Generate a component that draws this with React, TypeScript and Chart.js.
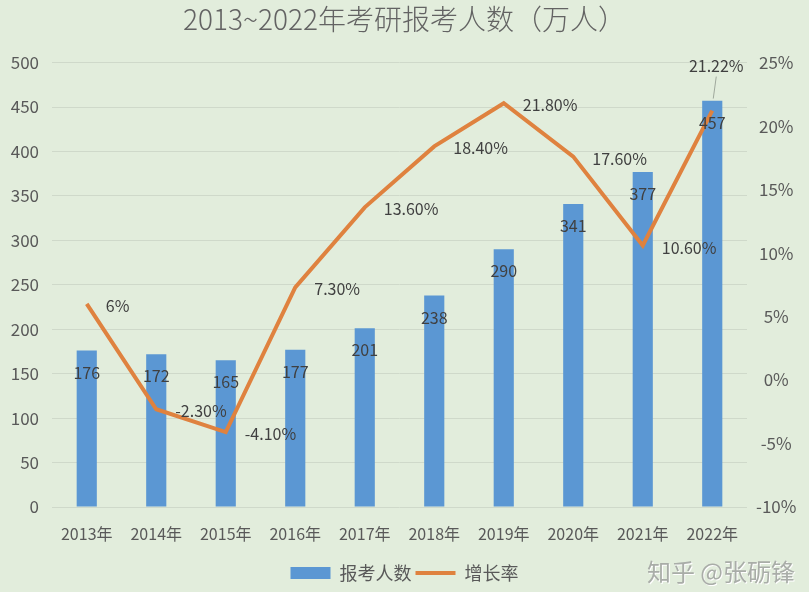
import React, { useEffect, useRef } from 'react';
import { Chart, registerables } from 'chart.js';

Chart.register(...registerables);

const titleText = '2013~2022年考研报考人数（万人）';
const years = ['2013年', '2014年', '2015年', '2016年', '2017年', '2018年', '2019年', '2020年', '2021年', '2022年'];
const applicants = [176, 172, 165, 177, 201, 238, 290, 341, 377, 457];
const growthRate = [6, -2.3, -4.1, 7.3, 13.6, 18.4, 21.8, 17.6, 10.6, 21.22];
const growthLabels = ['6%', '-2.30%', '-4.10%', '7.30%', '13.60%', '18.40%', '21.80%', '17.60%', '10.60%', '21.22%'];
const seriesNames = ['报考人数', '增长率'];
const leftAxis = { min: 0, max: 500, step: 50 };
const rightAxis = { min: -10, max: 25, step: 5 };
const watermark = '知乎 @张砺锋';

const FONT = '"Noto Sans CJK SC", "Noto Sans", sans-serif';
const BG = '#E2EDDC';
const BAR = '#5B97D3';
const LINE = '#DF823F';
const TEXT = '#595959';
const LABEL = '#404040';
const GRID = '#CFD9CA';

const labelsPlugin = {
  id: 'customLabels',
  afterDatasetsDraw(chart: any) {
    const ctx = chart.ctx;
    ctx.save();
    ctx.font = `16px ${FONT}`;
    ctx.fillStyle = LABEL;
    ctx.textBaseline = 'middle';
    // bar labels (inside end)
    const barMeta = chart.getDatasetMeta(0);
    barMeta.data.forEach((bar: any, i: number) => {
      ctx.textAlign = 'center';
      ctx.fillText(String(applicants[i]), bar.x, bar.y + 22);
    });
    // line labels (right of point)
    const lineMeta = chart.getDatasetMeta(1);
    lineMeta.data.forEach((pt: any, i: number) => {
      if (i === lineMeta.data.length - 1) {
        ctx.textAlign = 'center';
        ctx.fillText(growthLabels[i], pt.x + 4, pt.y - 45);
        ctx.strokeStyle = '#9FA89C';
        ctx.lineWidth = 1;
        ctx.beginPath();
        ctx.moveTo(pt.x + 4, pt.y - 34);
        ctx.lineTo(pt.x + 1, pt.y - 12);
        ctx.stroke();
      } else {
        ctx.textAlign = 'left';
        ctx.fillText(growthLabels[i], pt.x + 19, pt.y + 2);
      }
    });
    ctx.restore();
  },
  afterDraw(chart: any) {
    const ctx = chart.ctx;
    ctx.save();
    ctx.font = `24px ${FONT}`;
    ctx.textAlign = 'right';
    ctx.textBaseline = 'middle';
    ctx.fillStyle = '#FFFFFF';
    ctx.fillText(watermark, chart.width - 13, 573);
    ctx.fillStyle = '#A9ADA8';
    ctx.fillText(watermark, chart.width - 14, 572);
    ctx.restore();
  },
};

export default function App() {
  const ref = useRef<HTMLCanvasElement | null>(null);

  useEffect(() => {
    document.body.style.margin = '0';
    if (!ref.current) return;
    const chart = new Chart(ref.current, {
      type: 'bar',
      data: {
        labels: years,
        datasets: [
          {
            type: 'bar',
            label: seriesNames[0],
            data: applicants,
            backgroundColor: BAR,
            borderWidth: 0,
            yAxisID: 'y',
            barPercentage: 0.29,
            categoryPercentage: 1,
            order: 1,
          },
          {
            type: 'line',
            label: seriesNames[1],
            data: growthRate,
            borderColor: LINE,
            backgroundColor: LINE,
            borderWidth: 4,
            pointRadius: 0,
            tension: 0,
            yAxisID: 'y1',
            order: 0,
          } as any,
        ],
      },
      options: {
        animation: false,
        responsive: true,
        maintainAspectRatio: false,
        layout: { padding: { left: 0, right: 0, top: 3, bottom: 0 } },
        plugins: {
          title: {
            display: true,
            text: titleText,
            color: '#636363',
            font: { family: FONT, size: 28, weight: '300' as any },
            padding: { top: 0, bottom: 26 },
          },
          legend: {
            position: 'bottom',
            labels: {
              usePointStyle: true,
              pointStyleWidth: 40,
              boxHeight: 12,
              padding: 4,
              color: TEXT,
              font: { family: FONT, size: 18 },
              generateLabels: () => [
                {
                  text: seriesNames[0],
                  fillStyle: BAR,
                  strokeStyle: BAR,
                  lineWidth: 0,
                  pointStyle: 'rect',
                  datasetIndex: 0,
                  hidden: false,
                  fontColor: TEXT,
                } as any,
                {
                  text: seriesNames[1],
                  fillStyle: LINE,
                  strokeStyle: LINE,
                  lineWidth: 4,
                  pointStyle: 'line',
                  datasetIndex: 1,
                  hidden: false,
                  fontColor: TEXT,
                } as any,
              ],
            },
          },
          tooltip: { enabled: false },
        },
        scales: {
          x: {
            grid: { display: false },
            border: { display: false },
            ticks: { color: TEXT, font: { family: FONT, size: 16 }, padding: 9, maxRotation: 0 },
            afterFit: (axis: any) => {
              axis.height = 53;
            },
          },
          y: {
            position: 'left',
            min: leftAxis.min,
            max: leftAxis.max,
            ticks: { stepSize: leftAxis.step, color: TEXT, font: { family: FONT, size: 17 }, padding: 13 },
            grid: { color: GRID, lineWidth: 1, drawTicks: false },
            border: { display: false },
            afterFit: (axis: any) => {
              axis.width = 52;
            },
          },
          y1: {
            position: 'right',
            min: rightAxis.min,
            max: rightAxis.max,
            ticks: {
              stepSize: rightAxis.step,
              color: TEXT,
              font: { family: FONT, size: 17 },
              padding: 9,
              crossAlign: 'center',
              callback: (v: any) => `${v}%`,
            },
            grid: { display: false, drawTicks: false },
            border: { display: false },
            afterFit: (axis: any) => {
              axis.width = 62;
            },
          },
        },
      },
      plugins: [labelsPlugin],
    });
    return () => chart.destroy();
  }, []);

  return (
    <div style={{ position: 'fixed', left: 0, top: 0, width: 809, height: 592, background: BG }}>
      <canvas ref={ref} />
    </div>
  );
}
